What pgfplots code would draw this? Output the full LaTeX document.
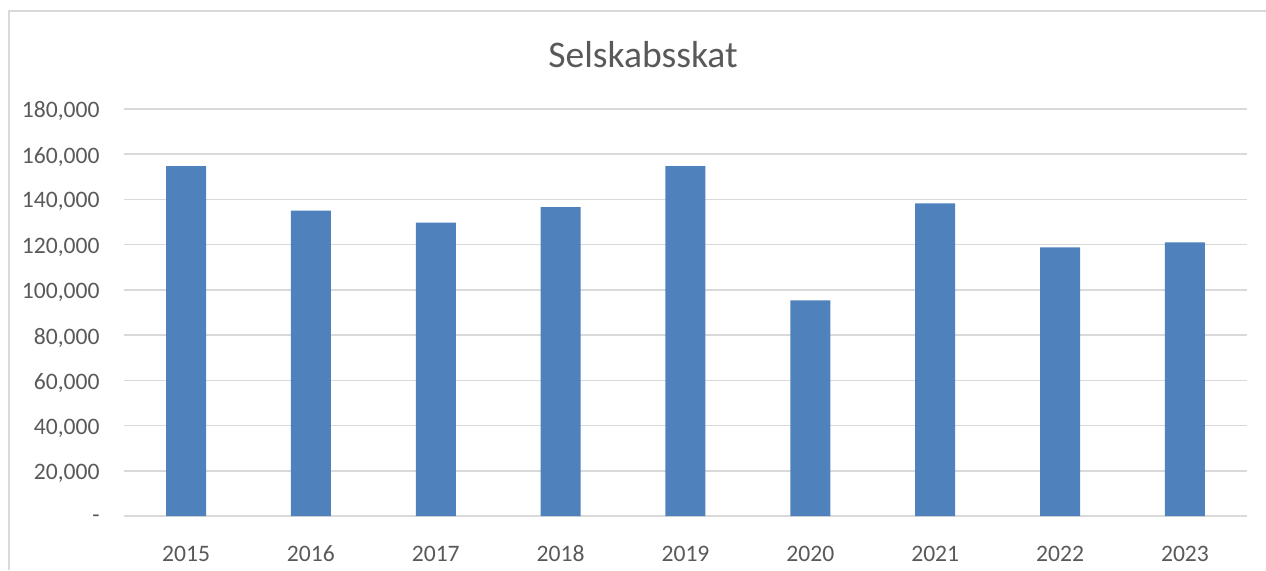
\documentclass[border=0pt]{standalone}
\usepackage{fontspec}
\setmainfont{Carlito}
\usepackage{pgfplots}
\pgfplotsset{compat=1.18}
\definecolor{barblue}{HTML}{4F81BD}
\definecolor{gridgray}{HTML}{D9D9D9}
\definecolor{txtgray}{HTML}{595959}
\begin{document}
\begin{tikzpicture}
\useasboundingbox (0,0) rectangle (633pt,285pt);
\draw[gridgray, line width=0.75pt] (4.5pt,0) -- (4.5pt,279.5pt) -- (633pt,279.5pt);
\node[anchor=base, text=txtgray, font=\fontsize{18.8}{22}\selectfont] at (321.5pt,251.5pt) {Selskabsskat};
\begin{axis}[
  at={(61.8pt,27pt)}, anchor=south west,
  scale only axis, width=561.9pt, height=203.5pt,
  xmin=-0.5, xmax=8.5, ymin=0, ymax=180000,
  ybar, bar width=20pt,
  xtick={0,...,8}, xticklabels={2015,2016,2017,2018,2019,2020,2021,2022,2023},
  ytick={0,20000,40000,60000,80000,100000,120000,140000,160000,180000},
  yticklabels={{-},{20,000},{40,000},{60,000},{80,000},{100,000},{120,000},{140,000},{160,000},{180,000}},
  axis line style={draw=none},
  tick style={draw=none},
  ymajorgrids, major grid style={gridgray, line width=0.8pt},
  tick label style={text=txtgray, font=\fontsize{11.8}{13}\selectfont},
  yticklabel style={anchor=east, inner sep=0pt, xshift=-11.8pt, yshift=-1.2pt},
  xticklabel style={anchor=base, inner sep=0pt, yshift=-18.5pt},
  scaled y ticks=false,
  clip=false,
]
\addplot[fill=barblue, draw=none] coordinates {
  (0,154700) (1,135100) (2,129800) (3,136600) (4,154700)
  (5,95400) (6,138300) (7,118800) (8,121000)
};
\end{axis}
\end{tikzpicture}
\end{document}
